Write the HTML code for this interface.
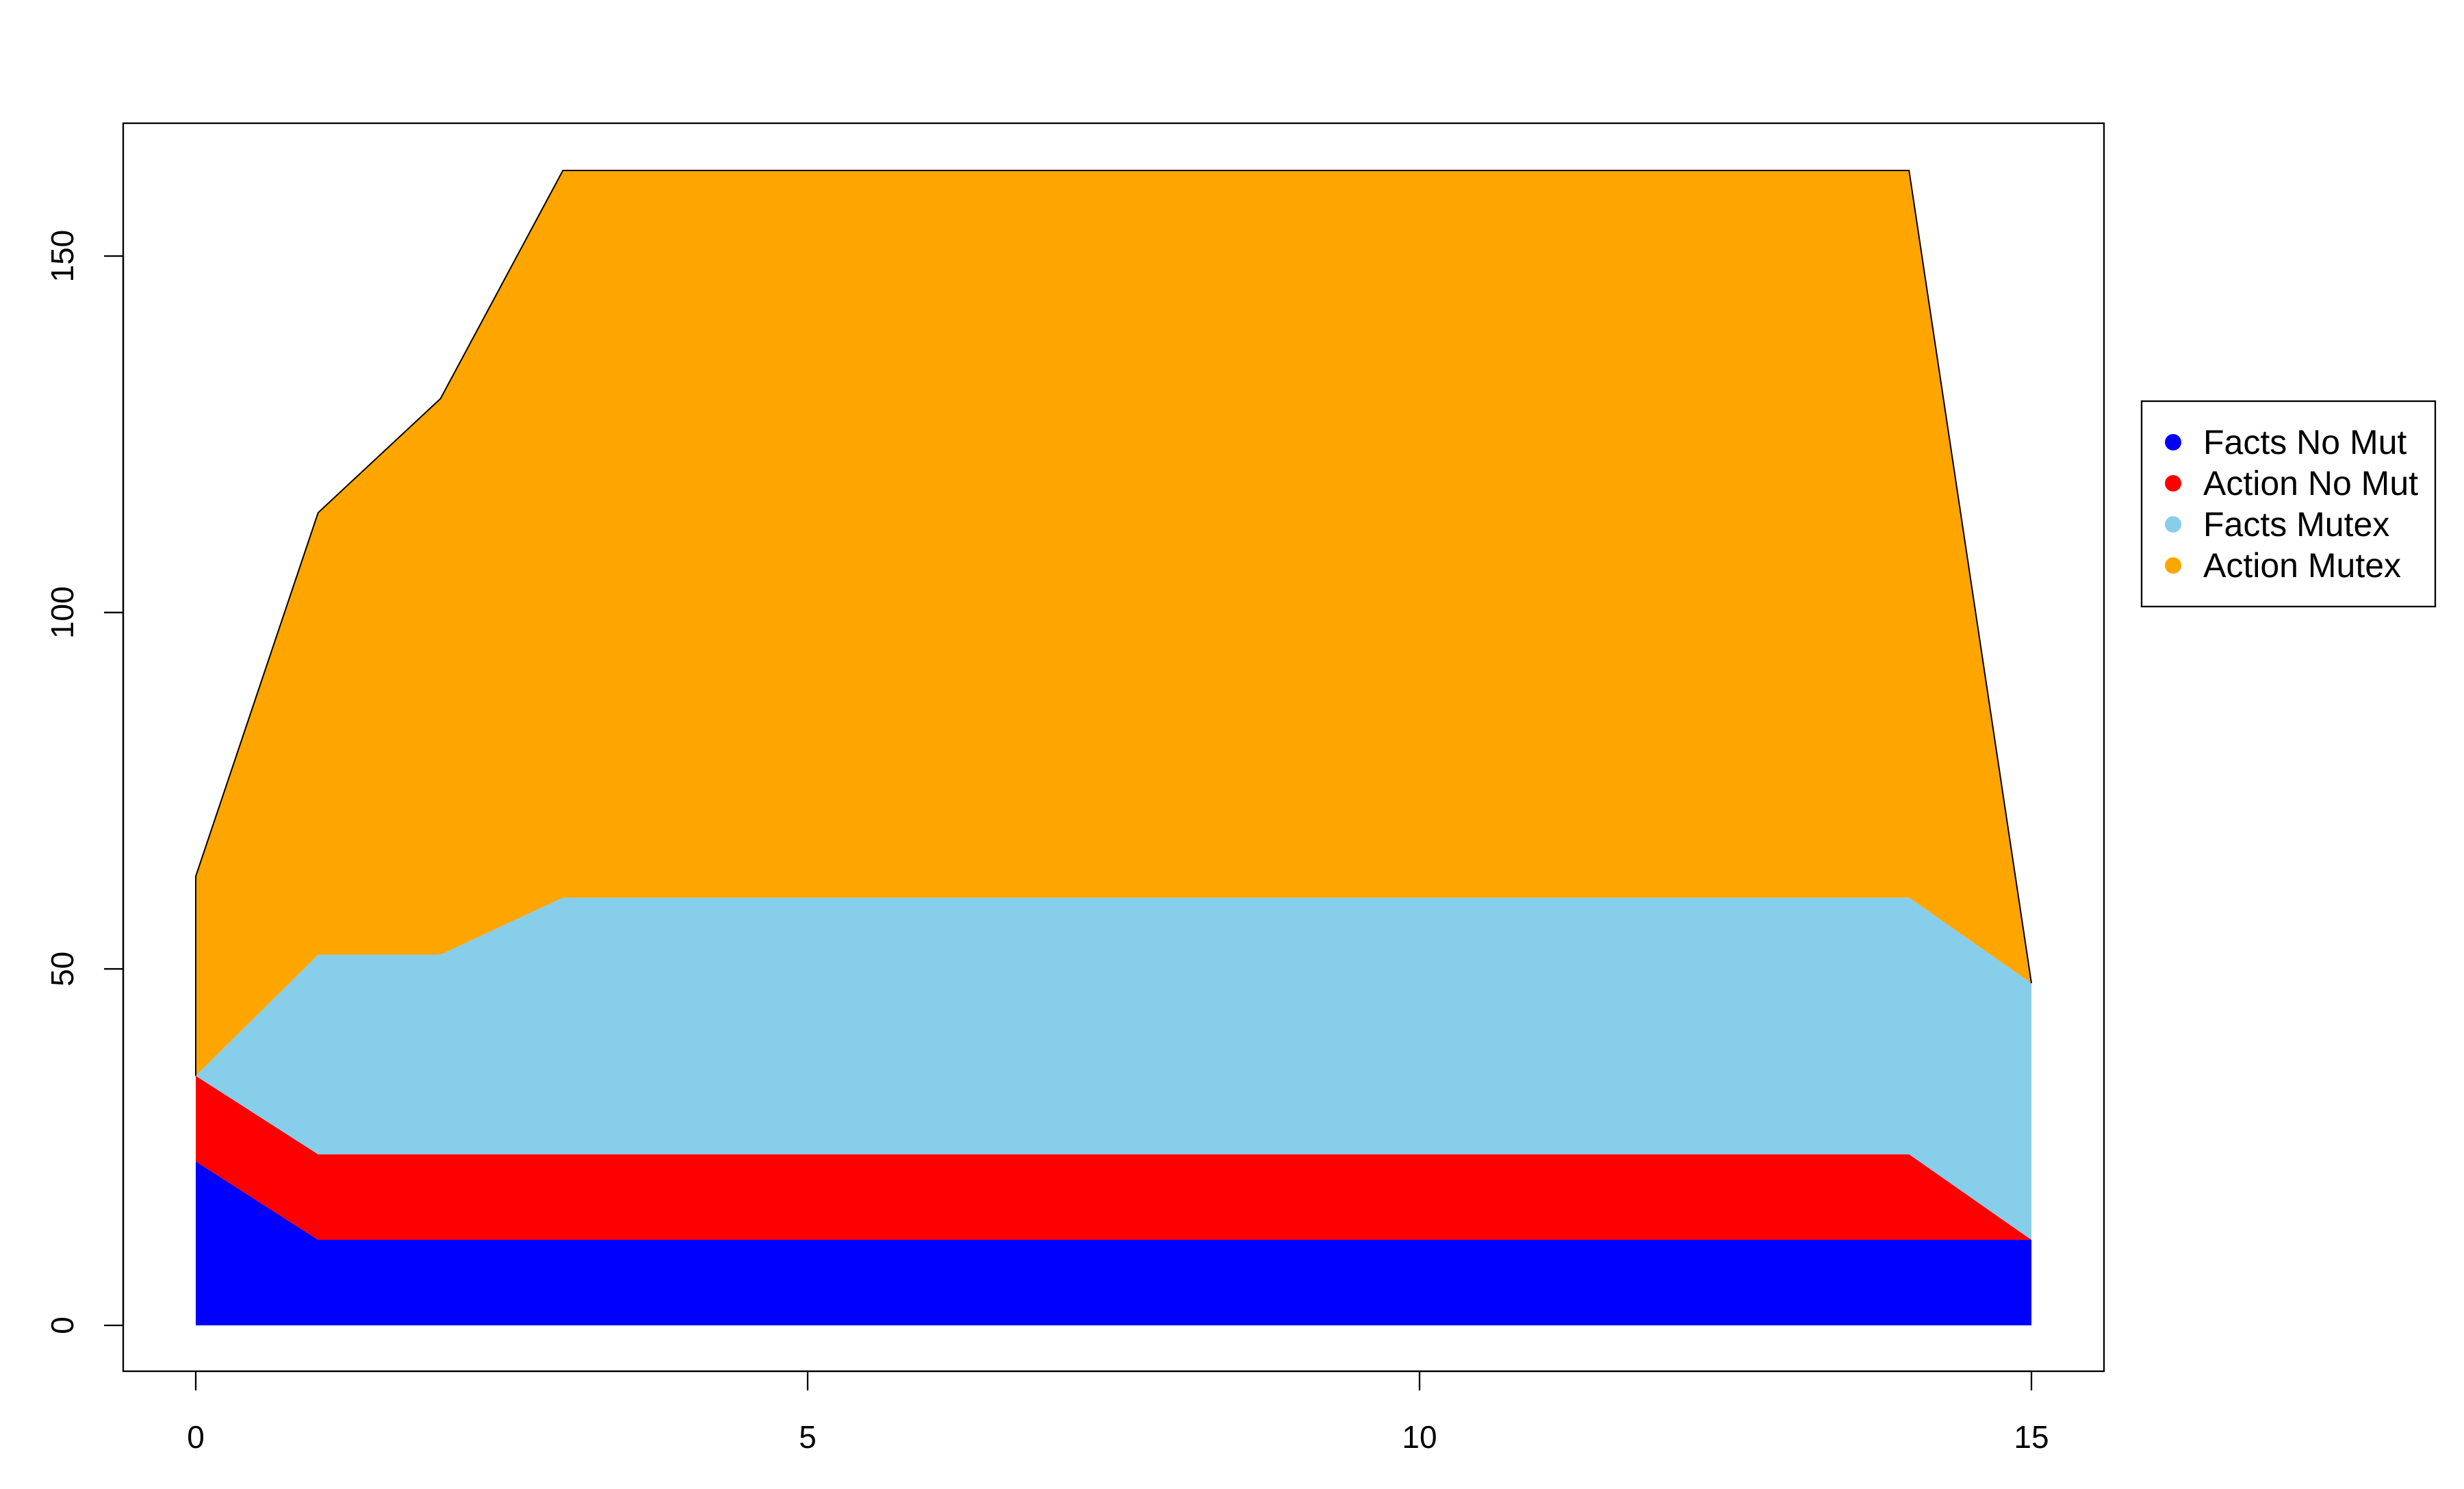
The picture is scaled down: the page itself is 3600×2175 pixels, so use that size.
<!DOCTYPE html>
<html><head><meta charset="utf-8"><style>body{margin:0;background:#fff}svg{display:block}text{font-family:"Liberation Sans",sans-serif}</style></head>
<body>
<svg id="chart" width="3600" height="2175" xmlns="http://www.w3.org/2000/svg">
<g id="areas"></g>
<g id="axes"></g>
<rect x="180" y="180" width="2894" height="1823" fill="none" stroke="#000" stroke-width="2.3"/>
<g>
<rect x="3129" y="586" width="429" height="300" fill="#fff" stroke="#000" stroke-width="2.3"/>
<g id="legend-entries"></g>
</g>
</svg>
<script>
const xs = [0,1,2,3,4,5,6,7,8,9,10,11,12,13,14,15];
const factsNoMut = [23,12,12,12,12,12,12,12,12,12,12,12,12,12,12,12];
const actionNoMut = [12,12,12,12,12,12,12,12,12,12,12,12,12,12,12,0];
const factsMutex = [0,28,28,36,36,36,36,36,36,36,36,36,36,36,36,36];
const actionMutex = [28,62,78,102,102,102,102,102,102,102,102,102,102,102,102,0];
const seriesNames = ["Facts No Mut","Action No Mut","Facts Mutex","Action Mutex"];
const seriesColors = ["#0000ff","#ff0000","#87ceeb","#ffa500"];
const xTicks = [0,5,10,15];
const yTicks = [0,50,100,150];
const NS="http://www.w3.org/2000/svg";
function X(v){return 286+(2968-286)*v/15;}
function Y(v){return 1936-(1936-374)*v/150;}
function mk(t,a,p){const e=document.createElementNS(NS,t);for(const k in a)e.setAttribute(k,a[k]);p.appendChild(e);return e;}
const areas=document.getElementById('areas');
const series=[factsNoMut,actionNoMut,factsMutex,actionMutex];
let base=xs.map(()=>0);
series.forEach((s,i)=>{
  const top=base.map((b,j)=>b+s[j]);
  let pts=xs.map((x,j)=>X(x)+','+Y(top[j]));
  for(let j=xs.length-1;j>=0;j--)pts.push(X(xs[j])+','+Y(base[j]));
  const p=mk('polygon',{points:pts.join(' '),fill:seriesColors[i]},areas);
  
  
  if(i===series.length-1){
    let lp=[X(xs[0])+','+Y(base[0])].concat(xs.map((x,j)=>X(x)+','+Y(top[j])));
    const l=mk('polyline',{points:lp.join(' '),fill:'none',stroke:'#000','stroke-width':2},areas);
    
    
  }
  base=top;
});
const axes=document.getElementById('axes');
mk('line',{x1:X(0),x2:X(15),y1:2003,y2:2003,stroke:'#000','stroke-width':2.3},axes);
xTicks.forEach(t=>{
  mk('line',{x1:X(t),x2:X(t),y1:2003,y2:2031,stroke:'#000','stroke-width':2.3},axes);
  const tx=mk('text',{x:X(t),y:2115,'font-size':46,'text-anchor':'middle'},axes);
  tx.textContent=t;
  
  
});
mk('line',{x1:180,x2:180,y1:Y(0),y2:Y(150),stroke:'#000','stroke-width':2.3},axes);
yTicks.forEach(t=>{
  mk('line',{x1:152,x2:180,y1:Y(t),y2:Y(t),stroke:'#000','stroke-width':2.3},axes);
  const tx=mk('text',{x:0,y:0,'font-size':46,'text-anchor':'middle',transform:`translate(107,${Y(t)}) rotate(-90)`},axes);
  tx.textContent=t;
  
  
});
const leg=document.getElementById('legend-entries');
seriesNames.forEach((n,i)=>{
  const y=646+60*i;
  const g=mk('g',{},leg);
  
  
  mk('circle',{cx:3175,cy:y,r:12,fill:seriesColors[i]},g);
  const t=mk('text',{x:3219,y:y+17,'font-size':50},g);
  t.textContent=n;
});
</script>
</body></html>
